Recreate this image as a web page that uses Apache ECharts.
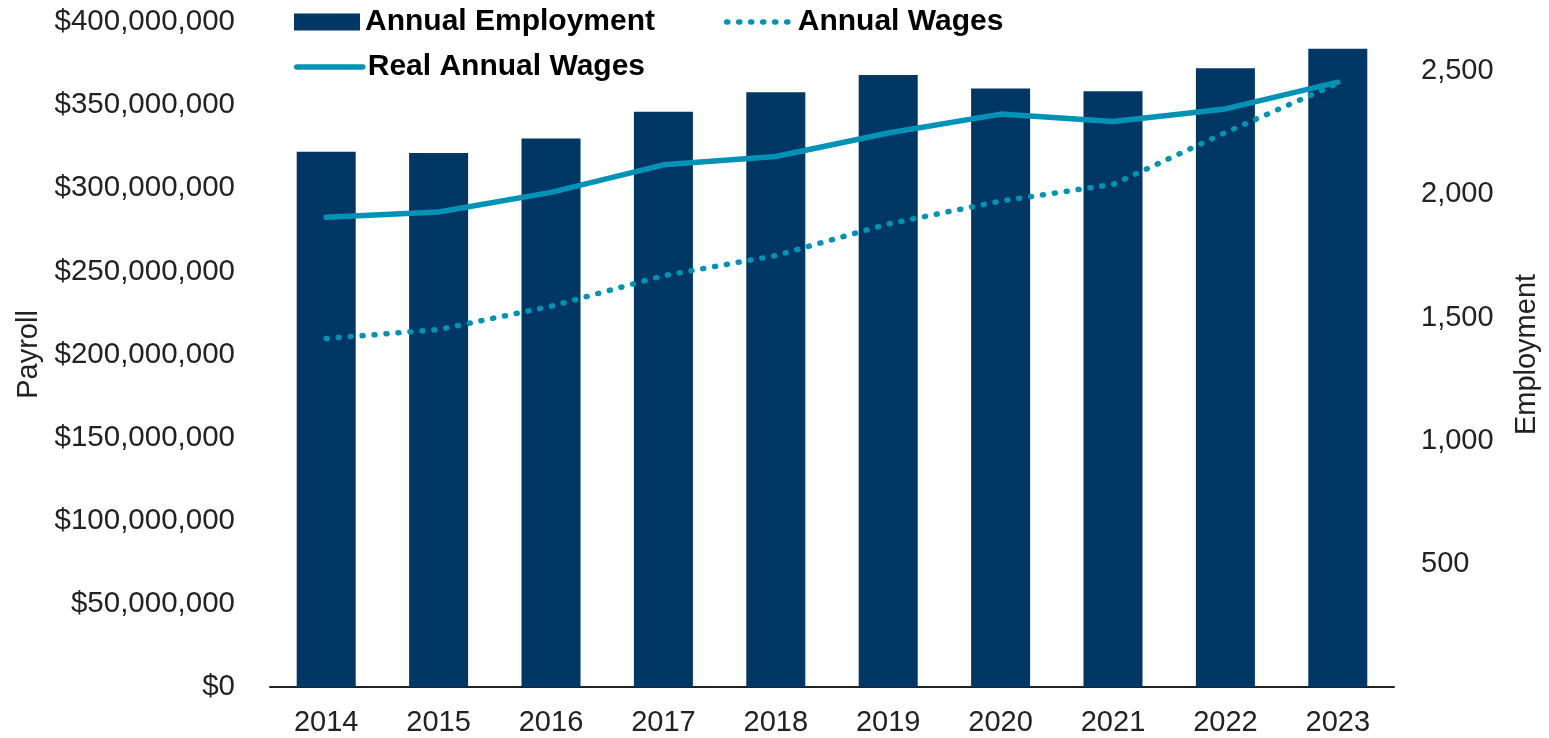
<!DOCTYPE html>
<html>
<head>
<meta charset="utf-8">
<title>Payroll and Employment</title>
<script src="https://cdn.jsdelivr.net/npm/echarts@6/dist/echarts.min.js"></script>
<style>
	html, body {
		margin: 0;
		padding: 0;
		background: #fff;
		overflow: hidden;
	}

	#chart {
		width: 1549px;
		height: 738px;
	}
</style>
</head>
<body>
<div id="chart"></div>
<script>
	const years = ['2014', '2015', '2016', '2017', '2018', '2019', '2020', '2021', '2022', '2023'];
	const annualEmployment = [2173, 2168, 2227, 2336, 2415, 2485, 2430, 2419, 2512, 2591];
	const annualWages = [209600000, 215000000, 229000000, 247400000, 259500000, 278500000, 292300000, 302300000, 333500000, 363100000];
	const realAnnualWages = [282500000, 285700000, 297500000, 314100000, 319100000, 333200000, 344600000, 340100000, 347700000, 363800000];
	const employmentTicks = [500, 1000, 1500, 2000, 2500];

	const navy = '#003764';
	const teal = '#0093b6';
	const ink = '#222222';
	const font = '"Liberation Sans", Arial, sans-serif';

	const chart = echarts.init(document.getElementById('chart'), null, { renderer: 'canvas' });

	const legendText = {
		color: '#000',
		fontFamily: font,
		fontSize: 30,
		fontWeight: 'bold',
		lineHeight: 30
	};

	// line legends: no symbol, just the stroke
	const lineLegend = (name, left, top, dash) => ({
		data: [name],
		left: left,
		top: top,
		padding: 0,
		itemWidth: 66,
		itemHeight: 17,
		itemStyle: { opacity: 0 },
		lineStyle: {
			color: teal,
			width: 5.5,
			type: dash,
			cap: 'round'
		},
		textStyle: legendText
	});

	const option = {
		animation: false,
		textStyle: { fontFamily: font },
		legend: [{
				data: ['Annual Employment'],
				left: 294,
				top: 7,
				padding: 0,
				itemWidth: 66,
				itemHeight: 17,
				icon: 'rect',
				textStyle: legendText
			},
			lineLegend('Annual Wages', 724, 7, [1, 11]),
			lineLegend('Real Annual Wages', 294, 52, 'solid')
		],
		grid: {
			left: 270,
			right: 149,
			top: 22,
			bottom: 51
		},
		xAxis: {
			type: 'category',
			data: years,
			axisTick: { show: false },
			axisLine: { lineStyle: { color: ink, width: 2 } },
			axisLabel: {
				color: ink,
				fontSize: 29,
				margin: 21
			}
		},
		yAxis: [{
				type: 'value',
				name: 'Payroll',
				nameLocation: 'middle',
				nameRotate: 90,
				nameGap: 224,
				nameTextStyle: { color: ink, fontSize: 29 },
				min: 0,
				max: 400000000,
				interval: 50000000,
				splitLine: { show: false },
				axisLine: { show: false },
				axisTick: { show: false },
				axisLabel: {
					color: ink,
					fontSize: 29.5,
					margin: 35,
					formatter: v => '$' + v.toLocaleString('en-US')
				}
			},
			{
				type: 'value',
				name: 'Employment',
				nameLocation: 'middle',
				nameRotate: 90,
				nameGap: 118,
				nameTextStyle: { color: ink, fontSize: 29 },
				min: 0,
				max: 2700,
				interval: 500,
				splitLine: { show: false },
				axisLine: { show: false },
				axisTick: { show: false },
				axisLabel: {
					color: ink,
					fontSize: 29,
					margin: 27,
					formatter: v => employmentTicks.includes(v) ? v.toLocaleString('en-US') : ''
				}
			}
		],
		series: [{
				name: 'Annual Employment',
				type: 'bar',
				yAxisIndex: 1,
				barWidth: 59,
				itemStyle: { color: navy },
				data: annualEmployment
			},
			{
				name: 'Annual Wages',
				type: 'line',
				yAxisIndex: 0,
				symbol: 'none',
				lineStyle: {
					color: teal,
					width: 5.5,
					type: [1, 11],
					cap: 'round'
				},
				itemStyle: { color: teal },
				data: annualWages
			},
			{
				name: 'Real Annual Wages',
				type: 'line',
				yAxisIndex: 0,
				symbol: 'none',
				lineStyle: {
					color: teal,
					width: 5.5,
					cap: 'round',
					join: 'round'
				},
				itemStyle: { color: teal },
				data: realAnnualWages
			}
		]
	};

	chart.setOption(option);
</script>
</body>
</html>
